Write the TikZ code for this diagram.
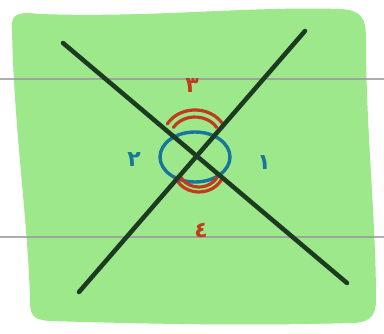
\documentclass[tikz,border=0pt]{standalone}
\usepackage{fontspec}
\newfontfamily\arabicfont[Script=Arabic]{DejaVu Sans}
\TeXXeTstate=1
\definecolor{blobgreen}{HTML}{9DE88B}
\definecolor{linedark}{HTML}{1C3B20}
\definecolor{arcred}{HTML}{C23A1E}
\definecolor{angblue}{HTML}{17779A}
\definecolor{rule}{HTML}{9A9A9A}
\begin{document}
\begin{tikzpicture}[x=1pt,y=-1pt,
  ruleline/.style={draw=rule,line width=1.2pt,opacity=0.8},
  xline/.style={draw=linedark,line width=4.5pt,line cap=round},
  redarc/.style={draw=arcred,line width=3.2pt,line cap=round},
  bluering/.style={draw=angblue,line width=3.4pt},
  lab/.style={font=\arabicfont\bfseries\fontsize{22}{22}\selectfont,inner sep=0pt}]
\useasboundingbox (0,0) rectangle (384,333);
% green blob
\fill[blobgreen] (12,30) .. controls (10,12) and (20,12) .. (40,14)
  .. controls (150,18) and (250,6) .. (340,9)
  .. controls (362,10) and (366,18) .. (366,40)
  .. controls (366,130) and (376,220) .. (376,300)
  .. controls (376,318) and (368,323) .. (350,323)
  .. controls (250,326) and (150,324) .. (50,321)
  .. controls (32,320) and (30,314) .. (30,300)
  .. controls (28,220) and (14,130) .. (12,30) -- cycle;
% ruled lines
\coordinate (rl1) at (0,79); \coordinate (rr1) at (384,79);
\coordinate (rl2) at (0,237); \coordinate (rr2) at (384,237);
\draw[ruleline] (rl1) -- (rr1);
\draw[ruleline] (rl2) -- (rr2);
% crossing lines
\coordinate (a1) at (63,43); \coordinate (a2) at (347,283);
\coordinate (b1) at (79,292); \coordinate (b2) at (305,31);
\coordinate (o) at (195,157);
\coordinate (ct) at (195,138);
\coordinate (cb) at (199,170);
% angle marks
\draw[bluering] (o) ellipse [x radius=35, y radius=25];
\draw[redarc] (ct) ++(210:32 and 28) arc[start angle=210, end angle=330, x radius=32, y radius=28];
\draw[redarc] (ct) ++(210:25 and 21) arc[start angle=210, end angle=330, x radius=25, y radius=21];
\draw[redarc] (cb) ++(160:25 and 22) arc[start angle=160, end angle=20, x radius=25, y radius=22];
\draw[redarc] (cb) ++(160:20 and 17) arc[start angle=160, end angle=20, x radius=20, y radius=17];
\draw[xline] (a1) -- (a2);
\draw[xline] (b1) -- (b2);
% labels
\node[lab,text=arcred] (l3) at (192,86) {\beginR ٣\endR};
\node[lab,text=angblue] (l2) at (134,160) {\beginR ٢\endR};
\node[lab,text=angblue] (l1) at (264,163) {\beginR ١\endR};
\node[lab,text=arcred] (l4) at (201,231) {\beginR ٤\endR};
\end{tikzpicture}
\end{document}
